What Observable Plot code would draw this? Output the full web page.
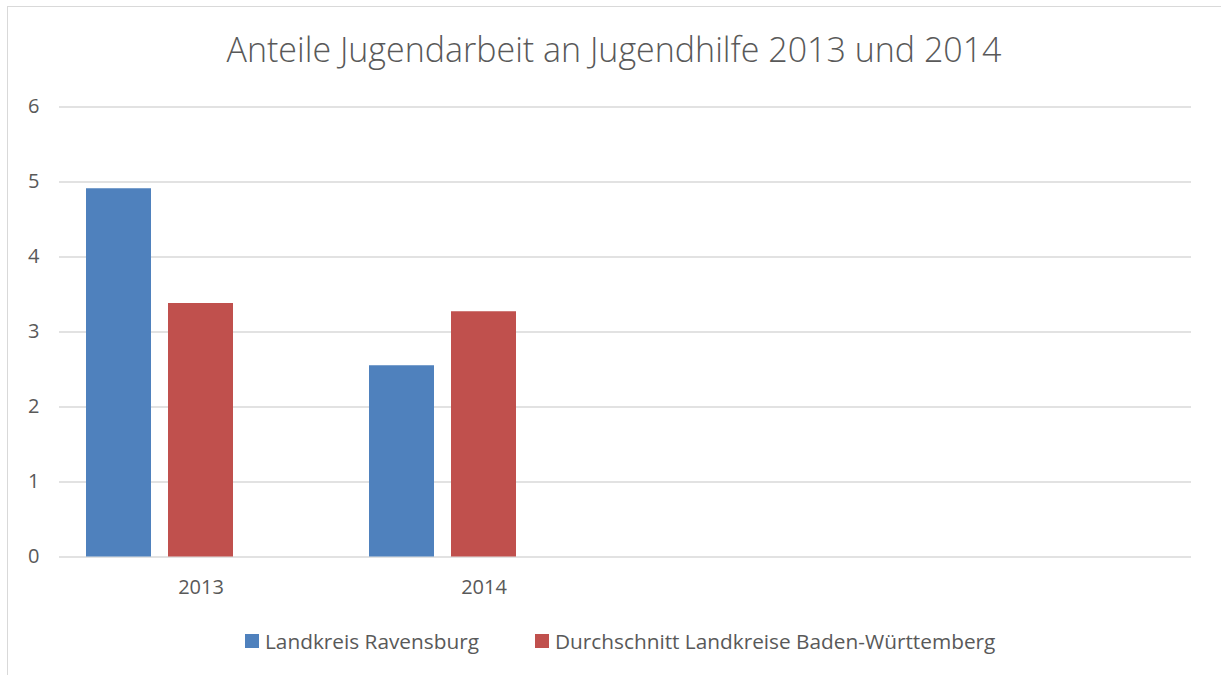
<!DOCTYPE html>
<html>
<head>
<meta charset="utf-8">
<script src="https://cdn.jsdelivr.net/npm/d3@7"></script>
<script src="https://cdn.jsdelivr.net/npm/@observablehq/plot@0.6"></script>
<style>
  html, body { margin: 0; padding: 0; background: #fff; }
  #wrap { position: relative; width: 1221px; height: 675px; overflow: hidden; font-family: "Open Sans", sans-serif; color: #595959; }
  #frame { position: absolute; left: 7px; top: 6px; width: 1230px; height: 700px; border-top: 1.5px solid #d9d9d9; border-left: 1.5px solid #d9d9d9; }
  #title { position: absolute; left: 0; width: 1228px; top: 26px; text-align: center; font-size: 34px; font-weight: 300; color: #595959; white-space: nowrap; }
  #chart { position: absolute; left: 0; top: 80px; }
  #legend { position: absolute; top: 627px; left: 245px; display: flex; align-items: center; font-size: 20.8px; color: #595959; }
  .item { display: flex; align-items: center; }
  .sw { width: 14px; height: 14px; margin-right: 6px; }
</style>
</head>
<body>
<div id="wrap">
  <div id="frame"></div>
  <div id="title">Anteile Jugendarbeit an Jugendhilfe 2013 und 2014</div>
  <div id="chart"></div>
  <div id="legend"></div>
</div>
<script>
// Data (the chart has four category slots; the last two are empty)
const categoryLabels = ["2013", "2014", "", ""];
const seriesNames = ["Landkreis Ravensburg", "Durchschnitt Landkreise Baden-Württemberg"];
const seriesColors = ["#4F81BD", "#C0504D"];
const ravensburg = [4.91, 2.55, null, null];
const badenWuerttemberg = [3.38, 3.27, null, null];
const yTicks = [0, 1, 2, 3, 4, 5, 6];

const rows = [];
ravensburg.forEach((v, i) => rows.push({cat: i, series: seriesNames[0], value: v}));
badenWuerttemberg.forEach((v, i) => rows.push({cat: i, series: seriesNames[1], value: v}));

const chart = Plot.plot({
  width: 1221,
  height: 530,
  marginLeft: 58,
  marginRight: 29,
  marginTop: 26.5,
  marginBottom: 53.5,
  style: {fontFamily: "'Open Sans', sans-serif", fontSize: "20px", color: "#595959", background: "transparent"},
  facet: {data: rows, x: "cat"},
  fx: {domain: [0, 1, 2, 3], padding: 0, axis: "bottom", label: null, tickSize: 0, tickPadding: 23,
       tickFormat: i => categoryLabels[i]},
  x: {domain: [...seriesNames, "(leer)"], axis: null, paddingInner: 0.204, paddingOuter: 0.32},
  y: {domain: [0, 6], ticks: yTicks, tickSize: 0, tickPadding: 20, label: null, tickFormat: d => d},
  color: {domain: seriesNames, range: seriesColors},
  marks: [
    Plot.ruleY(yTicks, {stroke: "#d9d9d9", strokeWidth: 1.4}),
    Plot.barY(rows, {x: "series", y: "value", fill: "series"})
  ]
});
document.getElementById("chart").appendChild(chart);

const legend = document.getElementById("legend");
seriesNames.forEach((name, i) => {
  const item = document.createElement("div");
  item.className = "item";
  if (i > 0) item.style.marginLeft = "56px";
  const sw = document.createElement("div");
  sw.className = "sw";
  sw.style.background = seriesColors[i];
  const t = document.createElement("span");
  t.textContent = name;
  item.appendChild(sw);
  item.appendChild(t);
  legend.appendChild(item);
});
</script>
</body>
</html>
